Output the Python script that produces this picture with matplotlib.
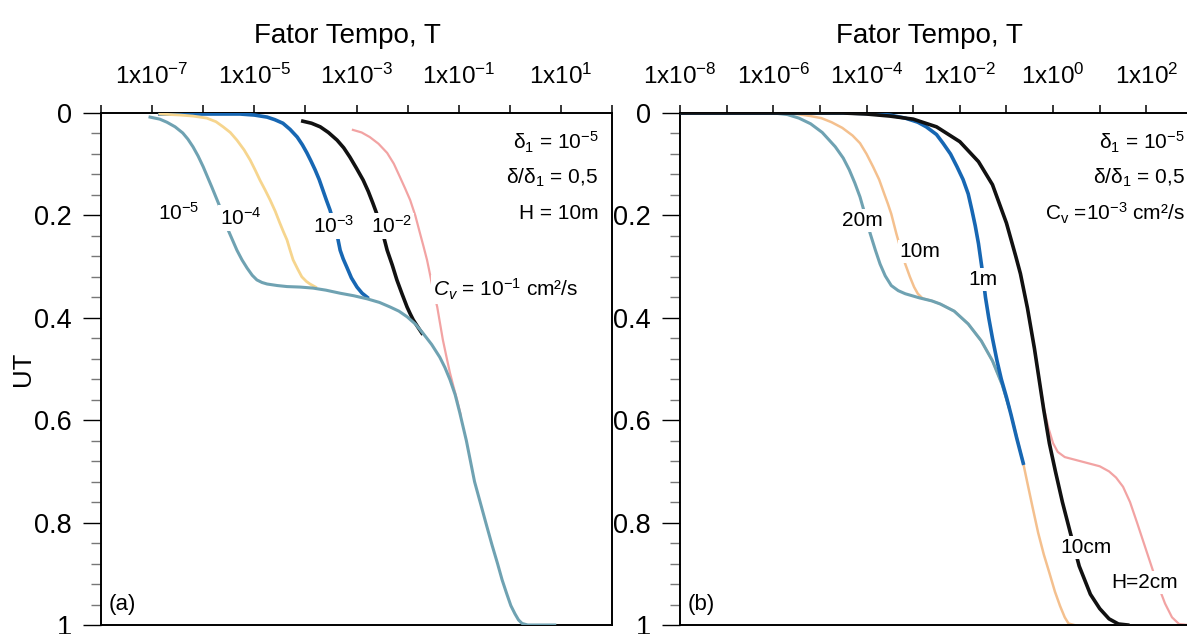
import numpy as np
import matplotlib
matplotlib.use('Agg')
import matplotlib.pyplot as plt
from matplotlib.ticker import FixedLocator, MultipleLocator, NullLocator, FuncFormatter

plt.rcParams['font.family'] = ['Liberation Sans', 'DejaVu Sans']
plt.rcParams['mathtext.fontset'] = 'custom'
plt.rcParams['mathtext.rm'] = 'Liberation Sans'
plt.rcParams['mathtext.it'] = 'Liberation Sans:italic'
plt.rcParams['mathtext.default'] = 'regular'

# ---- panel (a): varying Cv, H = 10 m  (log10 T, UT) ----
a_cv5_logT = [-7.04, -6.85, -6.71, -6.55, -6.40, -6.30, -6.20, -6.10, -6.00, -5.83, -5.67,
              -5.51, -5.34, -5.24, -5.14, -5.04, -4.95, -4.85, -4.75, -4.55, -4.36, -4.10,
              -3.85, -3.60, -3.32, -3.05, -2.79, -2.55, -2.34, -2.17, -2.01, -1.85, -1.70,
              -1.53, -1.37, -1.27, -1.17, -1.07, -0.98, -0.85, -0.69, -0.58, -0.47, -0.35,
              -0.24, -0.15, -0.06, 0.02, 0.10, 0.17, 0.24, 0.35, 0.88]
a_cv5_ut = [0.008, 0.012, 0.018, 0.027, 0.039, 0.051, 0.066, 0.084, 0.105, 0.145, 0.184,
            0.229, 0.268, 0.287, 0.303, 0.317, 0.326, 0.331, 0.334, 0.337, 0.339, 0.340,
            0.342, 0.346, 0.352, 0.357, 0.363, 0.370, 0.379, 0.387, 0.398, 0.412, 0.430,
            0.452, 0.477, 0.497, 0.521, 0.550, 0.585, 0.640, 0.720, 0.760, 0.800, 0.843,
            0.880, 0.912, 0.939, 0.962, 0.978, 0.990, 0.997, 1.0, 1.0]

a_cv4_logT = [-6.85, -6.45, -6.20, -5.93, -5.75, -5.61, -5.47, -5.34, -5.20, -5.08, -4.98,
              -4.89, -4.79, -4.69, -4.59, -4.50, -4.43, -4.36, -4.30, -4.24, -4.15, -4.07,
              -3.98, -3.91, -3.80]
a_cv4_ut = [0.002, 0.004, 0.006, 0.010, 0.017, 0.027, 0.038, 0.053, 0.072, 0.092, 0.112,
            0.131, 0.150, 0.170, 0.192, 0.215, 0.232, 0.248, 0.268, 0.287, 0.305, 0.320,
            0.329, 0.334, 0.340]

a_cv3_logT = [-6.85, -5.28, -5.00, -4.75, -4.60, -4.44, -4.30, -4.16, -4.06, -3.97, -3.89,
              -3.81, -3.73, -3.66, -3.59, -3.52, -3.46, -3.40, -3.36, -3.32, -3.26, -3.19,
              -3.10, -2.99, -2.89, -2.79]
a_cv3_ut = [0.002, 0.002, 0.004, 0.008, 0.013, 0.020, 0.032, 0.047, 0.062, 0.078, 0.094,
            0.111, 0.130, 0.150, 0.170, 0.189, 0.209, 0.229, 0.248, 0.268, 0.285, 0.301,
            0.322, 0.340, 0.352, 0.360]

a_cv2_logT = [-4.05, -3.88, -3.71, -3.55, -3.38, -3.25, -3.13, -3.00, -2.87, -2.77, -2.68,
              -2.61, -2.54, -2.47, -2.40, -2.30, -2.21, -2.11, -2.01, -1.95, -1.89, -1.80,
              -1.72]
a_cv2_ut = [0.016, 0.020, 0.027, 0.038, 0.053, 0.068, 0.086, 0.108, 0.131, 0.153, 0.176,
            0.195, 0.215, 0.241, 0.268, 0.297, 0.326, 0.353, 0.379, 0.392, 0.404, 0.418,
            0.430]

a_cv1_logT = [-3.07, -2.90, -2.74, -2.57, -2.40, -2.27, -2.15, -2.05, -1.95, -1.85, -1.76,
              -1.69, -1.62, -1.57, -1.52, -1.42, -1.31, -1.24, -1.17, -1.10, -1.03, -0.96]
a_cv1_ut = [0.033, 0.038, 0.047, 0.060, 0.078, 0.099, 0.125, 0.147, 0.170, 0.200, 0.234,
            0.260, 0.287, 0.311, 0.336, 0.379, 0.443, 0.476, 0.508, 0.535, 0.561, 0.590]

# ---- panel (b): varying H, Cv = 1e-3 cm2/s ----
b_20m_logT = [-8.0, -6.0, -5.70, -5.45, -5.20, -4.95, -4.67, -4.50, -4.37, -4.25, -4.14,
              -4.03, -3.92, -3.81, -3.71, -3.60, -3.47, -3.32, -3.17, -2.87, -2.60, -2.42,
              -2.12, -1.82, -1.54, -1.30, -1.09, -0.94]
b_20m_ut = [0.0, 0.0, 0.003, 0.010, 0.021, 0.038, 0.066, 0.088, 0.111, 0.137, 0.164,
            0.199, 0.236, 0.268, 0.295, 0.318, 0.337, 0.347, 0.353, 0.361, 0.367, 0.373,
            0.387, 0.412, 0.445, 0.484, 0.531, 0.576]

b_10m_logT = [-8.0, -5.80, -5.49, -5.20, -4.97, -4.75, -4.52, -4.30, -4.14, -4.00, -3.86,
              -3.73, -3.62, -3.54, -3.47, -3.36, -3.26, -3.17, -3.07, -2.98, -2.90, -2.80,
              -2.60, -2.42, -2.12, -1.82, -1.54, -1.30, -1.09, -0.94, -0.79, -0.64, -0.55,
              -0.44, -0.32, -0.20, -0.08, 0.04, 0.15, 0.25, 0.33, 0.45]
b_10m_ut = [0.0, 0.0, 0.002, 0.006, 0.010, 0.018, 0.029, 0.044, 0.059, 0.080, 0.105,
            0.130, 0.158, 0.178, 0.197, 0.236, 0.268, 0.295, 0.320, 0.340, 0.353, 0.362,
            0.367, 0.373, 0.387, 0.412, 0.445, 0.484, 0.531, 0.576, 0.629, 0.684, 0.723,
            0.770, 0.820, 0.862, 0.898, 0.935, 0.963, 0.985, 0.997, 1.0]

b_1m_logT = [-8.0, -4.50, -4.00, -3.50, -3.17, -2.90, -2.72, -2.50, -2.36, -2.20, -2.06,
             -1.93, -1.82, -1.74, -1.67, -1.60, -1.53, -1.45, -1.38, -1.30, -1.20, -1.11,
             -1.00, -0.90, -0.78, -0.64]
b_1m_ut = [0.0, 0.0, 0.001, 0.004, 0.010, 0.018, 0.027, 0.042, 0.059, 0.080, 0.105,
           0.130, 0.158, 0.190, 0.220, 0.255, 0.300, 0.360, 0.400, 0.440, 0.485, 0.520,
           0.555, 0.590, 0.635, 0.684]

b_10cm_logT = [-8.0, -4.50, -4.00, -3.50, -3.00, -2.50, -2.00, -1.60, -1.30, -1.00, -0.80,
               -0.70, -0.55, -0.40, -0.30, -0.20, -0.08, 0.05, 0.20, 0.37, 0.56, 0.80, 1.00,
               1.20, 1.40, 1.60]
b_10cm_ut = [0.0, 0.0, 0.002, 0.006, 0.012, 0.027, 0.056, 0.095, 0.140, 0.215, 0.280,
             0.314, 0.381, 0.460, 0.520, 0.580, 0.645, 0.700, 0.760, 0.820, 0.885, 0.940,
             0.968, 0.988, 0.998, 1.0]

b_2cm_logT = [-8.0, -4.50, -4.00, -3.50, -3.00, -2.50, -2.00, -1.60, -1.30, -1.00, -0.80,
              -0.70, -0.55, -0.40, -0.30, -0.20, -0.10, 0.00, 0.10, 0.25, 0.50, 0.75, 1.00,
              1.20, 1.35, 1.50, 1.65, 1.80, 2.00, 2.20, 2.40, 2.55, 2.70, 2.90]
b_2cm_ut = [0.0, 0.0, 0.002, 0.006, 0.012, 0.027, 0.056, 0.095, 0.140, 0.215, 0.280,
            0.314, 0.381, 0.460, 0.520, 0.575, 0.615, 0.645, 0.662, 0.672, 0.678, 0.684,
            0.690, 0.700, 0.712, 0.730, 0.760, 0.800, 0.855, 0.910, 0.958, 0.985, 0.998,
            1.0]

a_exponents = [-8, -7, -6, -5, -4, -3, -2, -1, 0, 1, 2]
b_exponents = [-8, -7, -6, -5, -4, -3, -2, -1, 0, 1, 2, 3]

TEAL = '#6fa2b2'
YELLOW = '#f6d58e'
ORANGE = '#f4c08e'
BLUE = '#1767b3'
BLACK = '#111111'
PINK = '#f2a3a3'

W, H = 1187, 634
fig = plt.figure(figsize=(W / 100, H / 100), dpi=100)
ax_a = fig.add_axes([101 / W, 9 / H, 511 / W, 512 / H])
ax_b = fig.add_axes([680 / W, 9 / H, 513 / W, 512 / H])


def style_axes(ax, exps, odd):
	ax.set_xscale('log')
	ax.set_xlim(10.0 ** exps[0], 10.0 ** exps[-1])
	ax.set_ylim(1, 0)
	ax.xaxis.set_ticks_position('top')
	ax.xaxis.set_label_position('top')
	ax.xaxis.set_major_locator(FixedLocator([10.0 ** e for e in exps]))
	ax.xaxis.set_minor_locator(NullLocator())

	def fmt(x, pos):
		e = int(round(np.log10(x)))
		if (e % 2 != 0) == odd and exps[0] < e < exps[-1] + (0 if odd else 1):
			return '1x10$^{%d}$' % e
		return ''
	ax.xaxis.set_major_formatter(FuncFormatter(fmt))
	ax.yaxis.set_major_locator(MultipleLocator(0.2))
	ax.yaxis.set_minor_locator(MultipleLocator(0.04))
	ax.yaxis.set_major_formatter(FuncFormatter(lambda v, p: '%g' % v))
	ax.tick_params(axis='x', which='major', direction='out', length=6, width=1.1,
				   pad=11, labelsize=17.5)
	ax.tick_params(axis='y', which='major', direction='out', length=13, width=1.0,
				   pad=8, labelsize=19.5)
	ax.tick_params(axis='y', which='minor', direction='out', length=7, width=1.0,
				   color='#777777')
	for s in ax.spines.values():
		s.set_linewidth(1.4)
	ax.set_xlabel('Fator Tempo, T', fontsize=20)


style_axes(ax_a, a_exponents, True)
style_axes(ax_b, b_exponents, False)
ax_b.xaxis.set_major_formatter(FuncFormatter(
	lambda x, pos: '1x10$^{%d}$' % int(round(np.log10(x)))
	if int(round(np.log10(x))) % 2 == 0 and np.log10(x) < 2.5 else ''))
ax_a.xaxis.set_label_coords(0.483, 1.137)
ax_b.xaxis.set_label_coords(0.487, 1.137)
ax_a.set_ylabel('UT', fontsize=18.5)
ax_a.yaxis.set_label_coords(-0.129, 0.5)

# panel (a) curves
p = lambda lt: 10.0 ** np.array(lt)
ax_a.plot(p(a_cv1_logT), a_cv1_ut, color=PINK, lw=1.6, zorder=2)
ax_a.plot(p(a_cv2_logT), a_cv2_ut, color=BLACK, lw=2.6, zorder=3)
ax_a.plot(p(a_cv3_logT), a_cv3_ut, color=BLUE, lw=2.6, zorder=3)
ax_a.plot(p(a_cv4_logT), a_cv4_ut, color=YELLOW, lw=2.0, zorder=3)
ax_a.plot(p(a_cv5_logT), a_cv5_ut, color=TEAL, lw=2.2, zorder=4)

# panel (b) curves
ax_b.plot(p(b_2cm_logT), b_2cm_ut, color=PINK, lw=1.6, zorder=2)
ax_b.plot(p(b_10m_logT), b_10m_ut, color=ORANGE, lw=1.8, zorder=2)
ax_b.plot(p(b_20m_logT), b_20m_ut, color=TEAL, lw=2.2, zorder=3)
ax_b.plot(p(b_1m_logT), b_1m_ut, color=BLUE, lw=2.6, zorder=4)
ax_b.plot(p(b_10cm_logT), b_10cm_ut, color=BLACK, lw=2.6, zorder=4)

box = dict(facecolor='white', edgecolor='none', pad=1.5)
lab = dict(fontsize=15, ha='center', va='center', bbox=box, zorder=6)

# curve labels, panel (a)
ax_a.text(10 ** -6.48, 0.195, '10$^{-5}$', **lab)
ax_a.text(10 ** -5.27, 0.205, '10$^{-4}$', **lab)
ax_a.text(10 ** -3.45, 0.22, '10$^{-3}$', **lab)
ax_a.text(10 ** -2.32, 0.22, '10$^{-2}$', **lab)
ax_a.text(10 ** -1.50, 0.345, '$\\mathit{C_v}$ = 10$^{-1}$ cm²/s', fontsize=15, ha='left',
		  va='center', bbox=box, zorder=6)

# curve labels, panel (b)
ax_b.text(10 ** -4.1, 0.21, '20m', **lab)
ax_b.text(10 ** -2.85, 0.27, '10m', **lab)
ax_b.text(10 ** -1.5, 0.325, '1m', **lab)
ax_b.text(10 ** 0.71, 0.848, '10cm', **lab)
ax_b.text(10 ** 1.96, 0.917, 'H=2cm', **lab)

# parameter blocks
blocks = ((ax_a, ['$δ_1$ = 10$^{-5}$', '$δ/δ_1$ = 0,5', 'H = 10m'], 0.973),
		  (ax_b, ['$δ_1$ = 10$^{-5}$', '$δ/δ_1$ = 0,5', 'C$_v$ =10$^{-3}$ cm²/s'], 0.984))
for ax, lines, x in blocks:
	for i, t in enumerate(lines):
		ax.text(x, 0.943 - i * 0.07, t, transform=ax.transAxes, fontsize=15,
				ha='right', va='center', zorder=6)

ax_a.text(0.015, 0.04, '(a)', transform=ax_a.transAxes, fontsize=16, ha='left', va='center')
ax_b.text(0.015, 0.04, '(b)', transform=ax_b.transAxes, fontsize=16, ha='left', va='center')

fig.savefig('out.png', dpi=100)
